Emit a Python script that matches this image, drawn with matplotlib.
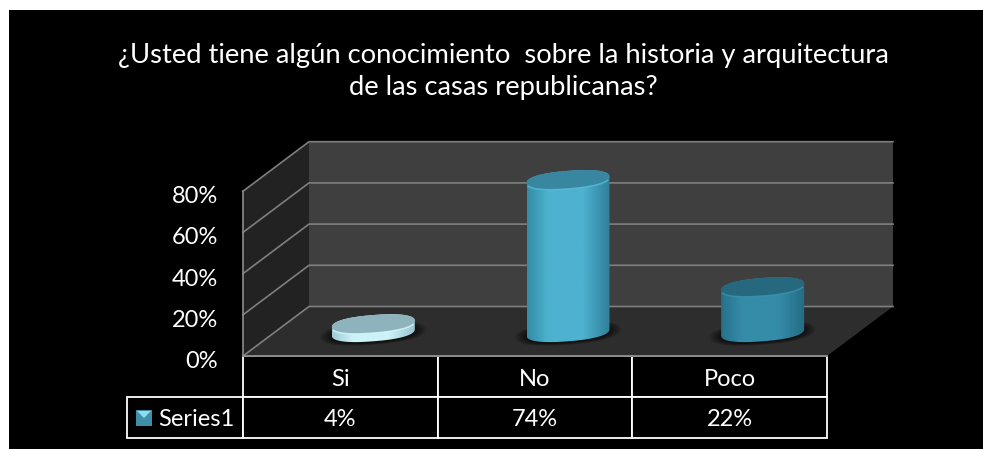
import numpy as np
import matplotlib
matplotlib.use('Agg')
import matplotlib.pyplot as plt
from matplotlib.colors import LinearSegmentedColormap
from matplotlib.patches import Polygon, Rectangle
from matplotlib.table import Table
from matplotlib.transforms import ScaledTranslation

categories = ['Si', 'No', 'Poco']
values = [4, 74, 22]
y_ticks = [0, 20, 40, 60, 80]
series_name = 'Series1'
title = '¿Usted tiene algún conocimiento  sobre la historia y arquitectura\nde las casas republicanas?'

W, H = 983, 449
# plot box in pixels, front plane of the 3d chart
LEFT, RIGHT, BOTTOM = 243, 827, 356
PX_PER_PCT = 2.06
PX_PER_CAT = (RIGHT - LEFT) / 3
TOP = BOTTOM - 80 * PX_PER_PCT
# depth of the box in data units
DX = 66 / PX_PER_CAT
DY = 49.5 / PX_PER_PCT

# shaded colours of each cylinder: left edge, middle, right edge, top, rim
cyl_colors = [
    ('#9FCBD6', '#CDF2F8', '#9AC4CF', '#8FB3BD', '#D8F8FC'),
    ('#358BA6', '#4DB2CF', '#2F7F99', '#38869F', '#58BEDA'),
    ('#27718A', '#358CA9', '#246C84', '#26697E', '#3A93AE'),
]

plt.rcParams['font.family'] = ['Lato', 'DejaVu Sans']

fig = plt.figure(figsize=(W / 100, H / 100), dpi=100, facecolor='white')
fig.add_artist(Rectangle((9 / W, 0), 1, 1 - 10 / H, transform=fig.transFigure,
                         facecolor='black', edgecolor='none', zorder=-1))

ax = fig.add_axes([LEFT / W, 1 - BOTTOM / H, (RIGHT - LEFT) / W, (BOTTOM - TOP) / H])
ax.patch.set_visible(False)
xmin, xmax = -0.5, 2.5
ymin, ymax = 0, 80


def poly(points, color, z):
    ax.add_patch(Polygon(points, closed=True, facecolor=color, edgecolor='none', zorder=z, clip_on=False))


# walls and floor
poly([(xmin + DX, DY), (xmax + DX, DY), (xmax + DX, ymax + DY), (xmin + DX, ymax + DY)], '#3F3F3F', 1)
poly([(xmin, 0), (xmin + DX, DY), (xmin + DX, ymax + DY), (xmin, ymax)], '#222222', 1)
poly([(xmin, 0), (xmax, 0), (xmax + DX, DY), (xmin + DX, DY)], '#2D2D2D', 1)

# gridlines run over the side wall and back wall
for tick in y_ticks:
    ax.plot([xmin, xmin + DX, xmax + DX], [tick, tick + DY, tick + DY], color='#7F7F7F', lw=1.2, zorder=2,
            clip_on=False, solid_joinstyle='miter')
ax.plot([xmin, xmin], [0, ymax], color='#8C8C8C', lw=1.2, zorder=2, clip_on=False)
ax.plot([xmin, xmax], [0, 0], color='#8C8C8C', lw=1.4, zorder=2, clip_on=False)


def ellipse_xy(cx, cy, t, scale=1.0):
    # tilted, slightly squarish ellipse, the right side sits higher than the left
    c, sn = np.cos(t), np.sin(t)
    ux = np.sign(c) * np.abs(c) ** 0.85
    uy = np.sign(sn) * np.abs(sn) ** 0.85
    a = 41.5 / PX_PER_CAT * scale
    b = 9.0 / PX_PER_PCT * scale
    s = 3.2 / PX_PER_PCT * scale
    return cx + a * ux, cy + b * uy + s * ux


def draw_cylinder(cat, value, colors):
    left, mid, right, top, rim = colors
    cx = cat + DX / 2
    cy = DY / 2 - 0.5

    # soft shadow on the floor
    for k in np.linspace(1.28, 1.0, 14):
        sx, sy = ellipse_xy(cx, cy - 0.5, np.linspace(0, 2 * np.pi, 80), k)
        poly(np.column_stack([sx, sy]), (0, 0, 0, 0.05), 3)

    # body outline: lower half of the base, upper half of the top
    t_low = np.linspace(np.pi, 2 * np.pi, 50)
    t_up = np.linspace(0, np.pi, 50)
    bx, by = ellipse_xy(cx, cy, t_low)
    tx, ty = ellipse_xy(cx, cy + value, t_up)
    outline = Polygon(np.column_stack([np.r_[bx, tx], np.r_[by, ty]]), closed=True, transform=ax.transData)

    cmap = LinearSegmentedColormap.from_list('body', [(0, left), (0.25, mid), (0.68, mid), (1, right)])
    a = 41.5 / PX_PER_CAT
    im = ax.imshow(np.linspace(0, 1, 128)[None, :], cmap=cmap, aspect='auto', zorder=4,
                   extent=[cx - a, cx + a, cy - 6, cy + value + 6])
    # the cylinders stick out of the axes box because of the depth offset
    im.set_clip_box(fig.bbox)
    im.set_clip_path(outline)

    # top face with a lighter rim at the front
    t = np.linspace(0, 2 * np.pi, 100)
    ex, ey = ellipse_xy(cx, cy + value, t)
    poly(np.column_stack([ex, ey]), top, 5)
    rx, ry = ellipse_xy(cx, cy + value, np.linspace(1.1 * np.pi, 1.9 * np.pi, 40))
    ax.plot(rx, ry, color=rim, lw=1.1, alpha=0.8, zorder=6, clip_on=False)


for i, v in enumerate(values):
    draw_cylinder(i, v, cyl_colors[i])

ax.set_xlim(xmin, xmax)
ax.set_ylim(ymin, ymax)
ax.set_xticks([])
ax.set_yticks(y_ticks)
ax.set_yticklabels([f'{t}%' for t in y_ticks], color='white', fontsize=17)
ax.tick_params(axis='y', length=0, pad=18)
for label in ax.get_yticklabels():
    label.set_transform(label.get_transform() + ScaledTranslation(0, -3.5 / 100, fig.dpi_scale_trans))
for spine in ax.spines.values():
    spine.set_visible(False)

# data table under the plot, bbox only counts the data columns
key_w = 116 / (RIGHT - LEFT)
row_h = 41 / (BOTTOM - TOP)
tbl = Table(ax, bbox=[0, -2 * row_h, 1, 2 * row_h])
cat_w = 1 / 3
cells = []
for i, name in enumerate(categories):
    cells.append(tbl.add_cell(0, i, cat_w, row_h, text=name, loc='center'))
    cells.append(tbl.add_cell(1, i, cat_w, row_h, text=f'{values[i]}%', loc='center'))
key_cell = tbl.add_cell(1, -1, key_w, row_h, text=series_name, loc='right')
key_cell.PAD = 0.07
cells.append(key_cell)
tbl.auto_set_font_size(False)
tbl.set_fontsize(17)
for c in cells:
    c.set_facecolor('black')
    c.set_edgecolor('white')
    c.set_linewidth(1.3)
    c.get_text().set_color('white')
    # cell text sits a bit low in the reference
    c.get_text().set_transform(ScaledTranslation(0, -2.5 / 100, fig.dpi_scale_trans))
ax.add_table(tbl)


def key_xy(px, py):
    return (px - LEFT) / (RIGHT - LEFT), (BOTTOM - py) / (BOTTOM - TOP)


# little legend key in the series cell
ax.add_patch(Polygon([key_xy(136, 410), key_xy(152, 410), key_xy(152, 426), key_xy(136, 426)], closed=True,
                     facecolor='#3F8EA8', edgecolor='none', transform=ax.transAxes, zorder=8, clip_on=False))
ax.add_patch(Polygon([key_xy(137, 411), key_xy(151, 411), key_xy(144, 418)], closed=True,
                     facecolor='#8FDCEB', edgecolor='none', transform=ax.transAxes, zorder=9, clip_on=False))

fig.text(503 / W, 1 - 71.5 / H, title, color='white', fontsize=19.7, ha='center', va='center', linespacing=1.37)

fig.savefig('out.png', dpi=100, facecolor=fig.get_facecolor())
